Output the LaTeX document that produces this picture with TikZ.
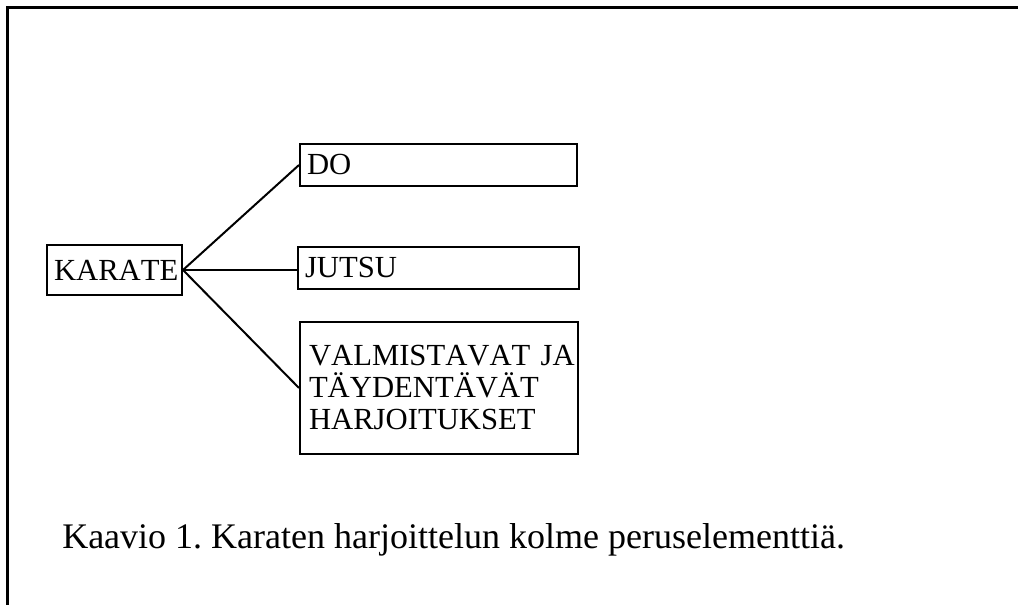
\documentclass[tikz,border=0pt]{standalone}
\usepackage{fontspec}
\setmainfont{Liberation Serif}
\newfontfamily\boxfont{Liberation Serif}[Kerning=Off]
\frenchspacing
\begin{document}
\begin{tikzpicture}[x=0.75pt,y=-0.75pt,
  elembox/.style={draw, line width=1.5pt, rectangle, anchor=north west,
    align=left, inner ysep=0pt, inner xsep=5.25pt,
    font=\boxfont\fontsize{23}{24}\selectfont},
  link/.style={line width=1.5pt},
  frameline/.style={line width=2.25pt, line join=miter}]
  \useasboundingbox (0,0) rectangle (1018,605);

  % page frame (top and left edges)
  \draw[frameline] (1018,8) -- (7,8) -- (7,605);

  % element boxes
  \node[elembox, text width=90.75pt, minimum height=37.5pt] (karate) at (46,244) {\mbox{KARATE}};
  \node[elembox, text width=197.25pt, minimum height=31.5pt] (do) at (299,143) {\mbox{DO}};
  \node[elembox, text width=200.25pt, minimum height=31.5pt] (jutsu) at (297,246) {\mbox{JUTSU}};
  \node[elembox, inner xsep=6.75pt, text width=195pt, minimum height=99pt] (prep) at (299,321)
    {\mbox{VALMISTAVAT JA}\\\mbox{TÄYDENTÄVÄT}\\\mbox{HARJOITUKSET}};

  % connectors
  \draw[link] (karate.east) -- (do.west);
  \draw[link] (karate.east) -- (karate.east -| jutsu.west);
  \draw[link] (karate.east) -- (prep.west);

  % caption
  \node[anchor=base west, inner sep=0pt, font=\fontsize{27}{30}\selectfont] (caption) at (62,549)
    {Kaavio 1. Karaten harjoittelun kolme peruselementtiä.};
\end{tikzpicture}
\end{document}
